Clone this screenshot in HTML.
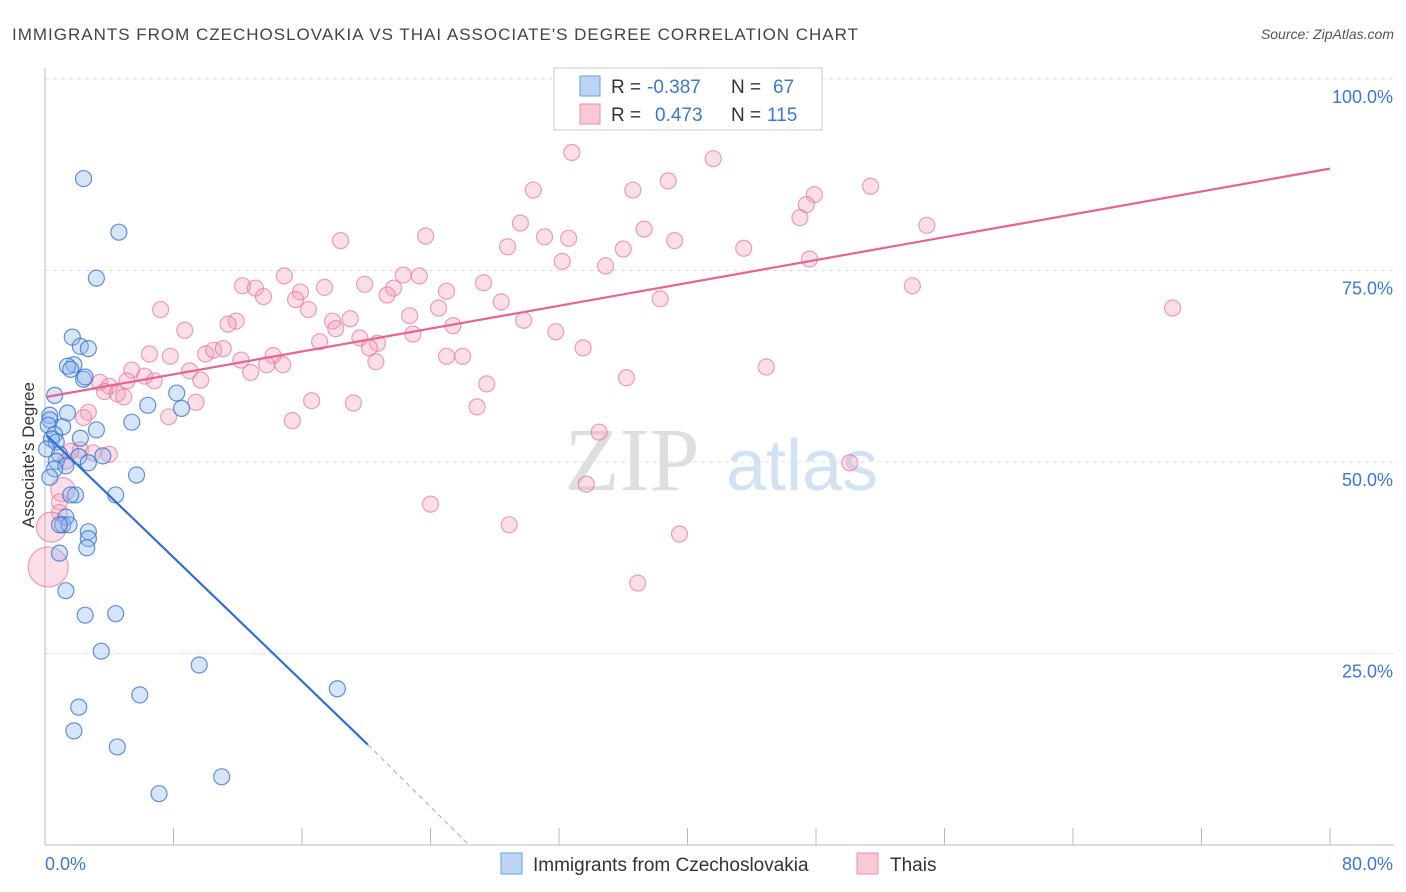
<!DOCTYPE html>
<html><head><meta charset="utf-8"><style>
body{margin:0;background:#fff;font-family:"Liberation Sans",sans-serif}
svg{display:block}
</style></head><body>
<svg width="1406" height="892">
<text x="12" y="40" font-size="17" fill="#444" textLength="846" lengthAdjust="spacing">IMMIGRANTS FROM CZECHOSLOVAKIA VS THAI ASSOCIATE'S DEGREE CORRELATION CHART</text>
<text x="1394" y="39" font-size="14" fill="#555" font-style="italic" text-anchor="end">Source: ZipAtlas.com</text>
<g id="grid"></g>
<text x="632" y="490" font-size="90" fill="#dedede" font-family="Liberation Serif" text-anchor="middle">ZIP</text>
<text x="802" y="490" font-size="72" fill="#d0e2f4" text-anchor="middle">atlas</text>
<g id="pts"></g>
<g id="lines"></g>
<text x="34" y="455" font-size="17" fill="#333" text-anchor="middle" transform="rotate(-90 34 455)">Associate's Degree</text>
<text x="45" y="870" font-size="18" fill="#3a78d4">0.0%</text>
<text x="1393" y="870" font-size="18" fill="#3a78d4" text-anchor="end">80.0%</text>
<g>
<rect x="554" y="68" width="268" height="62" fill="#fff" stroke="#ccc"/>
<rect x="580" y="76" width="20" height="20" fill="#bcd5f5" stroke="#6a9ee0"/>
<rect x="580" y="104" width="20" height="20" fill="#f9c9d6" stroke="#ea90ab"/>
<text x="611" y="93" font-size="19" fill="#333">R = <tspan fill="#3a78d4" x="647">-0.387</tspan><tspan x="731">N = </tspan><tspan fill="#3a78d4" x="773">67</tspan></text>
<text x="611" y="121" font-size="19" fill="#333">R = <tspan fill="#3a78d4" x="655">0.473</tspan><tspan x="731">N = </tspan><tspan fill="#3a78d4" x="767">115</tspan></text>
</g>
<g>
<rect x="501" y="853" width="21" height="21" fill="#bcd5f5" stroke="#6a9ee0"/>
<text x="533" y="871" font-size="19" fill="#333">Immigrants from Czechoslovakia</text>
<rect x="857" y="853" width="21" height="21" fill="#f9c9d6" stroke="#ea90ab"/>
<text x="890" y="871" font-size="19" fill="#333">Thais</text>
</g>
</svg>
<script>
const blueX=[2.4,4.6,3.2,1.7,2.2,2.7,1.8,2.4,2.5,1.4,1.6,0.6,8.2,6.4,8.5,1.4,0.3,0.3,5.4,0.2,1.1,3.2,0.6,2.2,0.4,0.7,0.1,0.9,2.1,3.6,0.7,2.7,1.3,0.6,5.7,4.4,1.9,1.6,1.3,1.1,1.5,0.9,2.7,2.7,2.6,0.9,1.3,2.5,4.4,3.5,9.6,18.2,5.9,2.1,1.8,4.5,11.0,7.1,0.3];
const blueY=[87.0,80.0,74.0,66.3,65.1,64.8,62.7,60.8,61.1,62.5,62.1,58.7,59.0,57.4,57.0,56.4,56.1,55.5,55.2,54.8,54.6,54.2,53.6,53.1,53.0,52.6,51.7,51.0,50.7,50.8,50.1,49.9,49.5,49.1,48.3,45.7,45.7,45.7,42.8,41.8,41.8,41.8,40.9,40.0,38.8,38.1,33.2,30.0,30.2,25.3,23.5,20.4,19.6,18.0,14.9,12.8,8.9,6.7,48.0];
const pinkX=[32.8,41.6,38.8,30.4,36.6,51.4,47.9,47.4,47.0,29.6,54.9,37.3,23.7,18.4,31.1,32.6,39.2,28.8,43.5,36.0,32.2,34.9,47.6,22.3,14.9,23.3,12.3,13.1,27.3,17.4,19.9,15.9,21.7,13.6,21.3,25.0,15.6,28.4,38.3,54.0,70.2,7.2,24.5,16.4,22.7,11.9,19.0,17.9,11.4,29.8,8.7,25.4,18.1,22.9,17.1,31.8,20.7,19.6,20.2,33.5,7.8,6.5,10.0,10.5,11.1,25.0,26.0,12.2,14.2,13.8,14.8,20.6,5.4,9.0,12.8,6.2,9.7,36.2,44.9,3.4,4.0,5.1,6.8,27.5,3.7,4.5,4.9,16.6,9.4,19.2,26.9,7.7,2.7,15.4,2.4,34.5,2.2,1.6,3.0,4.0,1.3,33.7,50.1,1.1,0.9,0.9,24.0,28.9,39.5,36.9,0.4,0.2];
const pinkY=[90.4,89.6,86.7,85.5,85.5,86.0,84.9,83.6,81.9,81.2,80.9,80.4,79.5,78.9,79.4,79.2,78.9,78.1,77.9,77.8,76.2,75.6,76.5,74.4,74.3,74.3,73.0,72.7,73.4,72.8,73.2,72.2,72.7,71.6,71.8,72.3,71.2,70.9,71.3,73.0,70.1,69.9,70.1,69.9,69.1,68.4,68.7,68.4,68.0,68.5,67.2,67.8,67.4,66.7,65.7,67.0,65.5,66.2,64.9,64.9,63.8,64.1,64.1,64.6,64.8,63.8,63.8,63.3,63.9,62.7,62.7,63.1,62.0,61.9,61.7,61.2,60.7,61.0,62.4,60.4,59.9,60.6,60.6,60.2,59.2,58.9,58.5,58.0,57.8,57.7,57.2,55.9,56.5,55.4,55.8,53.9,51.6,51.4,51.2,51.0,50.1,47.1,49.9,46.4,44.8,43.4,44.5,41.8,40.6,34.2,41.5,36.3];
const pinkR=pinkX.map(()=>8);
pinkR[pinkR.length-1]=20;
pinkR[pinkR.length-2]=15;
pinkR[pinkR.length-9]=12;
const yTicks=[100,75,50,25];
const xTicks=[0,8,16,24,32,40,48,56,64,72,80];
const blueLine=[[0.1,53.5],[20.1,13.1],[26.4,0]];
const pinkLine=[[0.1,58.5],[80,88.3]];
const NS="http://www.w3.org/2000/svg";
const sx=v=>45+v/80*1285, sy=v=>845-v/100*766;
function mk(t,a,p){const e=document.createElementNS(NS,t);for(const k in a)e.setAttribute(k,a[k]);p.appendChild(e);return e;}
const grid=document.getElementById('grid');
yTicks.forEach(v=>{
 const l=mk('line',{x1:45,x2:1394,y1:sy(v),y2:sy(v),stroke:'#ddd','stroke-dasharray':'4,4'},grid);
 
 
 const t=mk('text',{x:1393,y:sy(v)+24,'font-size':18,fill:'#3a78d4','text-anchor':'end'},grid);
 t.textContent=v.toFixed(1)+'%';
 
 
});
const ax=mk('line',{x1:45,x2:1394,y1:845,y2:845,stroke:'#bbb'},grid);


const ay=mk('line',{x1:45,x2:45,y1:68,y2:845,stroke:'#bbb'},grid);


xTicks.forEach(v=>{const t=mk('line',{x1:sx(v),x2:sx(v),y1:828,y2:845,stroke:'#bbb'},grid);
 
 });
const pts=document.getElementById('pts');
pinkX.forEach((x,i)=>{const c=mk('circle',{cx:sx(x),cy:sy(pinkY[i]),r:pinkR[i],fill:'rgba(244,160,185,0.35)',stroke:'rgba(230,120,155,0.7)','stroke-width':1.2},pts);
 
 });
blueX.forEach((x,i)=>{const c=mk('circle',{cx:sx(x),cy:sy(blueY[i]),r:8,fill:'rgba(140,180,235,0.35)',stroke:'rgba(50,110,210,0.75)','stroke-width':1.2},pts);
 
 });
const lines=document.getElementById('lines');
const bl=mk('line',{x1:sx(blueLine[0][0]),y1:sy(blueLine[0][1]),x2:sx(blueLine[1][0]),y2:sy(blueLine[1][1]),stroke:'#2f6fd6','stroke-width':2.2},lines);


const bd=mk('line',{x1:sx(blueLine[1][0]),y1:sy(blueLine[1][1]),x2:sx(blueLine[2][0]),y2:sy(blueLine[2][1]),stroke:'#aaa','stroke-width':1,'stroke-dasharray':'5,4'},lines);


const pl=mk('line',{x1:sx(pinkLine[0][0]),y1:sy(pinkLine[0][1]),x2:sx(pinkLine[1][0]),y2:sy(pinkLine[1][1]),stroke:'#e8648f','stroke-width':2.2},lines);


</script>
</body></html>
